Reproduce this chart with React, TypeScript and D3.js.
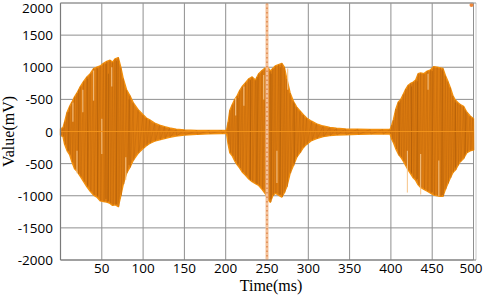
import React from "react";
import * as d3 from "d3";

// ---- data ----
const sampleTimes = [
  0, 3, 5, 8, 11, 14, 17, 20, 24, 28, 32, 36, 40, 44, 48, 52, 56, 60, 63, 66, 70, 73, 76, 80, 84, 88, 94, 100, 104, 108, 114, 120, 126, 132, 140, 150, 165, 180, 195, 201,
  203, 205, 208, 211, 214, 217, 220, 224, 228, 232, 236, 240, 244, 248, 251, 254, 257, 260, 264, 268, 271, 274, 278, 282, 286, 290, 294, 298, 304, 310, 318, 326, 334, 345, 360, 375, 390, 399,
  401, 403, 406, 409, 412, 415, 418, 421, 424, 427, 430, 433, 436, 440, 444, 448, 452, 456, 460, 463, 466, 469, 472, 475, 478, 481, 484, 488, 492, 496, 499, 500,
];
const upperValues = [
  40, 60, 150, 300, 390, 460, 540, 600, 700, 780, 850, 900, 980, 1000, 1020, 1060, 1090, 1110, 1080, 1130, 1150, 1000, 820, 650, 560, 450, 340, 260, 210, 180, 130, 100, 75, 55, 35, 25, 15, 15, 15, 20,
  150, 330, 420, 500, 560, 640, 700, 760, 820, 850, 800, 900, 950, 990, 1000, 940, 980, 1020, 1040, 1060, 1000, 820, 600, 470, 380, 320, 260, 210, 160, 120, 85, 65, 50, 40, 35, 30, 30, 30,
  100, 180, 350, 460, 500, 580, 660, 720, 750, 770, 800, 900, 910, 900, 940, 960, 1010, 1000, 990, 980, 870, 780, 680, 560, 490, 450, 420, 390, 300, 240, 210, 200,
];
const lowerValues = [
  -60, -80, -200, -300, -360, -480, -580, -620, -700, -780, -860, -930, -990, -1020, -1080, -1090, -1100, -1120, -1150, -1140, -1170, -1000, -820, -650, -560, -450, -340, -265, -220, -185, -150, -130, -110, -90, -70, -55, -45, -35, -30, -30,
  -200, -330, -380, -460, -520, -570, -630, -680, -740, -780, -810, -840, -900, -970, -1060, -1100, -1000, -960, -990, -1020, -950, -860, -650, -530, -400, -330, -250, -200, -140, -110, -80, -65, -55, -50, -45, -40, -40, -40,
  -120, -170, -270, -350, -400, -460, -530, -600, -660, -720, -760, -830, -870, -900, -930, -960, -990, -1000, -1010, -1010, -900, -810, -720, -640, -600, -530, -470, -420, -330, -300, -290, -290,
];
// light streaks visible inside the bursts
const streakTimes = [15, 20, 27, 40, 50, 62, 79, 212, 222, 246, 262, 275, 420, 436, 445, 458];
const streakTops = [450, -300, 650, 950, 200, 1000, -400, 520, 700, 880, -300, 980, -300, -350, 900, -450];
const streakBottoms = [150, -650, 300, 480, -350, 700, -750, 250, 400, 500, -800, 650, -950, -980, 650, -1000];
// dark streaks
const darkTimes = [10, 22, 33, 45, 55, 58, 68, 83, 215, 230, 238, 255, 266, 283, 410, 425, 432, 450, 462, 478, 490];
const darkTops = [300, 650, 820, 980, 1050, 900, 1100, 500, 520, 800, 850, 900, 1000, 440, 450, 700, 780, 940, 950, 450, 330];
const darkBottoms = [-300, -660, -840, -1000, -1050, -1080, -1130, -520, -500, -760, -820, -1050, -980, -500, -380, -640, -740, -940, -990, -560, -360];

const xTickValues = [50, 100, 150, 200, 250, 300, 350, 400, 450, 500];
const yTickValues = [-2000, -1500, -1000, -500, 0, 500, 1000, 1500, 2000];
const yTickLabels = ["-2000", "-1500", "-1000", "-500", "0", "-500", "1000", "1500", "2000"];
const markerTime = 250;
const cornerPoint = { t: 500, v: 2000 };

const W = 484;
const H = 295;

export default function App() {
  const x = d3.scaleLinear().domain([0, 500]).range([60.5, 473.5]);
  const y = d3.scaleLinear().domain([-2000, 2000]).range([260, 3]);

  const rows = sampleTimes.map((t, i) => ({ t, hi: upperValues[i], lo: lowerValues[i] }));
  const area = d3
    .area<{ t: number; hi: number; lo: number }>()
    .x((d) => x(d.t))
    .y0((d) => y(d.lo))
    .y1((d) => y(d.hi));
  const areaPath = area(rows) || "";

  // oscillation texture: alternate between the upper and lower envelope of each sample
  const zig: [number, number][] = [];
  rows.forEach((d) => {
    zig.push([x(d.t), y(d.hi)]);
    zig.push([x(d.t) + 0.6, y(d.lo)]);
  });
  const zigPath = d3.line()(zig) || "";

  const tickFont = "'Open Sans', 'Noto Sans', sans-serif";
  const titleFont = "'Liberation Serif', 'DejaVu Serif', serif";
  const grid = "#8f8f8f";

  return (
    <svg
      width={W}
      height={H}
      style={{ position: "absolute", left: 0, top: 0, display: "block", background: "#fff" }}
    >
      {/* grid */}
      {yTickValues.map((v) => (
        <line key={"gy" + v} x1={x(0)} x2={x(500)} y1={y(v)} y2={y(v)} stroke={grid} strokeWidth={1} />
      ))}
      {xTickValues.map((t) => (
        <line key={"gx" + t} x1={x(t)} x2={x(t)} y1={y(2000)} y2={y(-2000)} stroke={grid} strokeWidth={1} />
      ))}
      <line x1={x(500) + 2.5} x2={x(500) + 2.5} y1={y(2000)} y2={y(-2000)} stroke="#c8c8c8" strokeWidth={1} />

      {/* signal envelope */}
      <path d={areaPath} fill="#dd7c10" stroke="#f2900f" strokeWidth={1.4} strokeLinejoin="round" />
      <path d={zigPath} fill="none" stroke="#b65f0a" strokeWidth={0.6} opacity={0.55} />
      {darkTimes.map((t, i) => (
        <line
          key={"d" + i}
          x1={x(t)}
          x2={x(t)}
          y1={y(darkTops[i])}
          y2={y(darkBottoms[i])}
          stroke="#a85808"
          strokeWidth={1}
          opacity={0.6}
        />
      ))}
      {streakTimes.map((t, i) => (
        <line
          key={"s" + i}
          x1={x(t)}
          x2={x(t)}
          y1={y(streakTops[i])}
          y2={y(streakBottoms[i])}
          stroke="#f6c488"
          strokeWidth={1.2}
          opacity={0.85}
        />
      ))}
      <line x1={x(0)} x2={x(500)} y1={y(0)} y2={y(0)} stroke="#f5961c" strokeWidth={1.2} opacity={0.9} />

      {/* vertical marker */}
      <line x1={x(markerTime)} x2={x(markerTime)} y1={y(2000)} y2={y(-2000)} stroke="#f4c29a" strokeWidth={3} />
      <line
        x1={x(markerTime)}
        x2={x(markerTime)}
        y1={y(2000)}
        y2={y(-2000)}
        stroke="#de8448"
        strokeWidth={1.4}
        strokeDasharray="1.5 3"
      />
      <circle cx={x(cornerPoint.t) - 2} cy={y(cornerPoint.v) + 2} r={2} fill="#f0883a" />

      {/* axes frame */}
      <line x1={x(0)} x2={x(0)} y1={y(2000)} y2={y(-2000)} stroke="#7a7a7a" strokeWidth={1.2} />
      <line x1={x(0)} x2={x(500) + 2.5} y1={y(-2000)} y2={y(-2000)} stroke="#7a7a7a" strokeWidth={1.2} />
      <line x1={x(0)} x2={x(500) + 2.5} y1={y(2000)} y2={y(2000)} stroke="#9a9a9a" strokeWidth={1} />

      {/* tick labels */}
      {yTickValues.map((v, i) => (
        <text
          key={"yl" + v}
          x={53}
          y={Math.max(y(v) + 5, 12.5)}
          textAnchor="end"
          fontFamily={tickFont}
          fontSize={13.5}
          fill="#000"
        >
          {yTickLabels[i]}
        </text>
      ))}
      {xTickValues.map((t) => (
        <text
          key={"xl" + t}
          x={Math.min(x(t), 471)}
          y={273}
          textAnchor="middle"
          fontFamily={tickFont}
          fontSize={13.5}
          fill="#000"
        >
          {t}
        </text>
      ))}

      {/* titles */}
      <text x={271} y={291} textAnchor="middle" fontFamily={titleFont} fontSize={16} fill="#000">
        Time(ms)
      </text>
      <text
        transform={`translate(14, ${y(0)}) rotate(-90)`}
        textAnchor="middle"
        fontFamily={titleFont}
        fontSize={16}
        fill="#000"
      >
        Value(mV)
      </text>
    </svg>
  );
}
